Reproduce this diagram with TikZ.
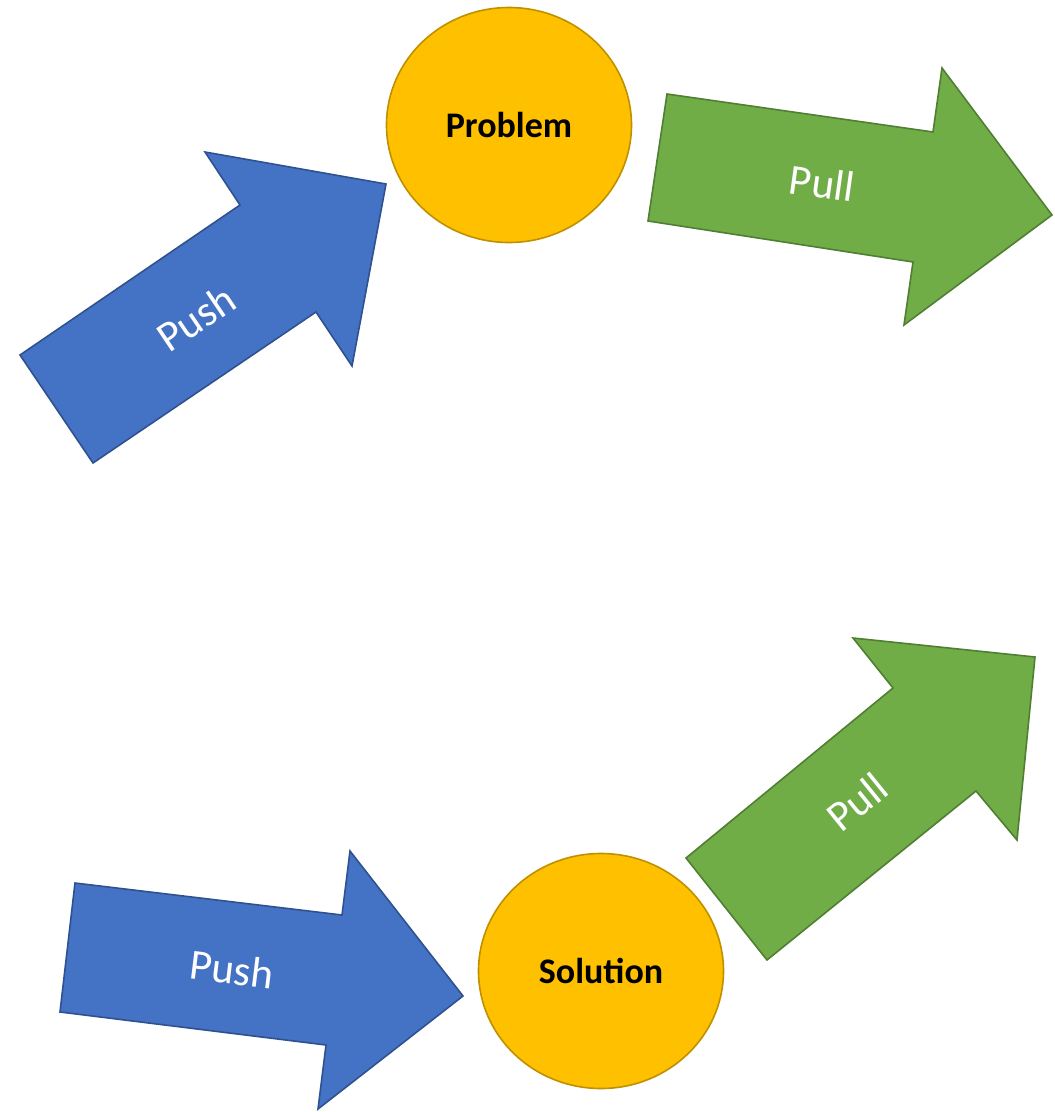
\documentclass[tikz,border=0pt]{standalone}
\usepackage{fontspec}
\setmainfont{Carlito}
\usetikzlibrary{shapes.geometric}
\definecolor{pushfill}{HTML}{4472C4}
\definecolor{pushline}{HTML}{2F528F}
\definecolor{pullfill}{HTML}{70AD47}
\definecolor{pullline}{HTML}{507E32}
\definecolor{stagefill}{HTML}{FFC000}
\definecolor{stageline}{HTML}{BF9000}
\tikzset{
  pusharrow/.style={fill=pushfill, draw=pushline, line width=1.6pt, line join=miter},
  pullarrow/.style={fill=pullfill, draw=pullline, line width=1.6pt, line join=miter},
  stage/.style={ellipse, fill=stagefill, draw=stageline, line width=1.6pt,
    minimum width=245pt, minimum height=235pt, inner sep=0pt,
    font=\fontsize{36}{40}\selectfont\bfseries, text=black},
  arrowlabel/.style={text=white, font=\fontsize{43}{47}\selectfont, inner sep=0pt}
}
\begin{document}
\begin{tikzpicture}[x=1pt, y=-1pt]
\useasboundingbox (0,0) rectangle (1055,1112);

% upper push arrow into the problem
\draw[pusharrow] (20,355) -- (240,205) -- (205,152) -- (386,184) -- (352,366) -- (316,312) -- (93,463) -- cycle;
\node[arrowlabel, rotate=34] (pushA) at (196,318) {Push};

% problem
\node[stage] (problem) at (509,125) {Problem};

% upper pull arrow out of the problem
\draw[pullarrow] (667,94) -- (933,132) -- (942,68) -- (1052,215) -- (904,325) -- (913,262) -- (648,221) -- cycle;
\node[arrowlabel, rotate=-8] (pullA) at (822,183) {Pull};

% lower push arrow into the solution
\draw[pusharrow] (75,883) -- (342,915) -- (350,851) -- (463,996) -- (318,1109) -- (326,1045) -- (60,1012) -- cycle;
\node[arrowlabel, rotate=-7] (pushB) at (232,969) {Push};

% solution
\node[stage] (solution) at (601,971) {Solution};

% lower pull arrow out of the solution
\draw[pullarrow] (686,858) -- (893,688) -- (853,638) -- (1035,657) -- (1017,840) -- (976,791) -- (767,960) -- cycle;
\node[arrowlabel, rotate=39] (pullB) at (857,802) {Pull};
\end{tikzpicture}
\end{document}
